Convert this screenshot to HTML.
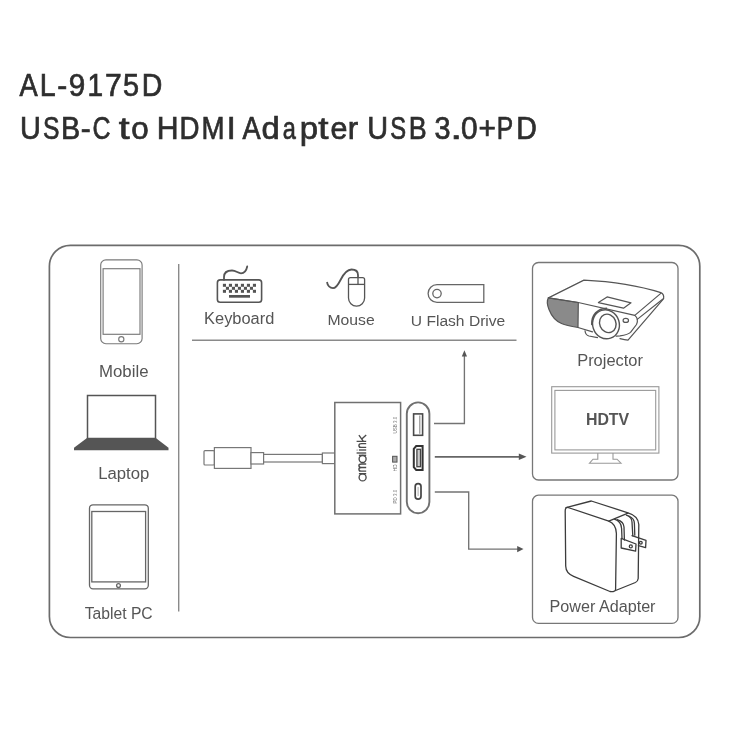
<!DOCTYPE html>
<html><head><meta charset="utf-8">
<style>
html,body{margin:0;padding:0;background:#fff;}
body{width:750px;height:750px;overflow:hidden;position:relative;}
svg{position:absolute;left:0;top:0;will-change:transform;}
text{font-family:"Liberation Sans",sans-serif;}
</style></head>
<body>
<svg width="750" height="750" viewBox="0 0 750 750">
<rect width="750" height="750" fill="#fff"/>
<!-- Title -->
<g font-size="31" fill="#2e2e2e" stroke="#2e2e2e" stroke-width="0.7">
<text transform="translate(19.40 96) scale(0.881 1)">A</text>
<text transform="translate(39.71 96) scale(0.922 1)">L</text>
<text transform="translate(57.22 96) scale(0.965 1)">-</text>
<text transform="translate(68.86 96) scale(0.957 1)">9</text>
<text transform="translate(87.51 96) scale(0.905 1)">1</text>
<text transform="translate(105.10 96) scale(0.972 1)">7</text>
<text transform="translate(123.09 96) scale(0.932 1)">5</text>
<text transform="translate(141.71 96) scale(0.920 1)">D</text>
<text transform="translate(20.02 138.5) scale(0.932 1)">U</text>
<text transform="translate(43.03 138.5) scale(0.796 1)">S</text>
<text transform="translate(60.99 138.5) scale(0.927 1)">B</text>
<text transform="translate(80.72 138.5) scale(0.965 1)">-</text>
<text transform="translate(92.48 138.5) scale(0.805 1)">C</text>
<text transform="translate(118.76 138.5) scale(1.263 1)">t</text>
<text transform="translate(131.33 138.5) scale(1.011 1)">o</text>
<text transform="translate(156.87 138.5) scale(0.976 1)">H</text>
<text transform="translate(179.48 138.5) scale(0.893 1)">D</text>
<text transform="translate(201.38 138.5) scale(0.892 1)">M</text>
<text transform="translate(226.78 138.5) scale(1.038 1)">I</text>
<text transform="translate(242.50 138.5) scale(0.876 1)">A</text>
<text transform="translate(261.48 138.5) scale(1.054 1)">d</text>
<text transform="translate(282.65 138.5) scale(0.760 1)">a</text>
<text transform="translate(299.63 138.5) scale(1.062 1)">p</text>
<text transform="translate(318.29 138.5) scale(1.187 1)">t</text>
<text transform="translate(330.56 138.5) scale(0.983 1)">e</text>
<text transform="translate(347.68 138.5) scale(1.006 1)">r</text>
<text transform="translate(367.22 138.5) scale(0.932 1)">U</text>
<text transform="translate(390.27 138.5) scale(0.768 1)">S</text>
<text transform="translate(408.85 138.5) scale(0.867 1)">B</text>
<text transform="translate(434.55 138.5) scale(0.932 1)">3</text>
<text transform="translate(450.32 138.5) scale(1.389 1)">.</text>
<text transform="translate(461.08 138.5) scale(0.965 1)">0</text>
<text transform="translate(478.49 138.5) scale(0.963 1)">+</text>
<text transform="translate(496.83 138.5) scale(0.794 1)">P</text>
<text transform="translate(516.21 138.5) scale(0.920 1)">D</text>
</g>


<!-- outer box -->
<rect x="49.4" y="245.3" width="650.4" height="392.2" rx="21" fill="none" stroke="#6c6c6c" stroke-width="1.7"/>
<!-- divider -->
<line x1="178.7" y1="264" x2="178.7" y2="611.5" stroke="#8a8a8a" stroke-width="1.4"/>
<line x1="192" y1="340.2" x2="516.5" y2="340.2" stroke="#8a8a8a" stroke-width="1.4"/>

<!-- right boxes -->
<rect x="532.5" y="262.5" width="145.5" height="217.5" rx="6" fill="none" stroke="#777" stroke-width="1.3"/>
<rect x="532.5" y="495.2" width="145.5" height="128.2" rx="6" fill="none" stroke="#777" stroke-width="1.3"/>

<!-- Mobile -->
<g fill="none" stroke="#7a7a7a" stroke-width="1.15">
<rect x="100.7" y="259.9" width="41.4" height="83.8" rx="5.2"/>
<rect x="103.1" y="268.7" width="36.9" height="65.6"/>
<circle cx="121.3" cy="339.2" r="2.6"/>
</g>
<text x="99.0" y="376.5" font-size="16" fill="#555" textLength="49.5" lengthAdjust="spacingAndGlyphs">Mobile</text>

<!-- Laptop -->
<rect x="87.5" y="395.5" width="68" height="43" fill="none" stroke="#555" stroke-width="1.5"/>
<path d="M87 438 L155.8 438 L168.5 447.8 L168.5 450.3 L74 450.3 L74 447.8 Z" fill="#555"/>
<text x="98.2" y="479.3" font-size="16" fill="#555" textLength="51.1" lengthAdjust="spacingAndGlyphs">Laptop</text>

<!-- Tablet -->
<g fill="none" stroke="#666" stroke-width="1.3">
<rect x="89.5" y="504.8" width="58.8" height="84" rx="3.5"/>
<rect x="91.8" y="511.5" width="53.8" height="70.4"/>
<circle cx="118.5" cy="585.6" r="1.9"/>
</g>
<text x="84.7" y="618.8" font-size="16" fill="#555" textLength="68.0" lengthAdjust="spacingAndGlyphs">Tablet PC</text>

<!-- Keyboard -->
<g fill="none" stroke="#555" stroke-width="1.6">
<rect x="217.4" y="279.9" width="44.2" height="22.3" rx="2.8"/>
<path d="M224 279.8 L224 277 C224 272 227 270.5 232 270.5 C236 270.5 238 273.3 241 273.3 C244.5 273.3 246.5 270 247.2 266.5" stroke-width="1.8" stroke-linecap="round"/>
</g>
<g fill="#555">
<rect x="222.9" y="283.8" width="3.1" height="3"/><rect x="228.9" y="283.8" width="3.1" height="3"/><rect x="234.9" y="283.8" width="3.1" height="3"/><rect x="240.9" y="283.8" width="3.1" height="3"/><rect x="246.9" y="283.8" width="3.1" height="3"/><rect x="252.9" y="283.8" width="3.1" height="3"/><rect x="225.9" y="286.8" width="3.1" height="3"/><rect x="231.9" y="286.8" width="3.1" height="3"/><rect x="237.9" y="286.8" width="3.1" height="3"/><rect x="243.9" y="286.8" width="3.1" height="3"/><rect x="249.9" y="286.8" width="3.1" height="3"/><rect x="222.9" y="289.8" width="3.1" height="3"/><rect x="228.9" y="289.8" width="3.1" height="3"/><rect x="234.9" y="289.8" width="3.1" height="3"/><rect x="240.9" y="289.8" width="3.1" height="3"/><rect x="246.9" y="289.8" width="3.1" height="3"/><rect x="252.9" y="289.8" width="3.1" height="3"/>
<rect x="229" y="295" width="21" height="2.7"/>
</g>
<text x="204.1" y="324" font-size="16" fill="#555" textLength="70.2" lengthAdjust="spacingAndGlyphs">Keyboard</text>

<!-- Mouse -->
<g fill="none" stroke="#555" stroke-width="1.3">
<path d="M348.5 306.2 M348.5 298 L348.5 279.6 Q348.5 277.6 350.5 277.6 L362.6 277.6 Q364.6 277.6 364.6 279.6 L364.6 298 A8.05 8.05 0 0 1 348.5 298 Z"/>
<line x1="348.5" y1="284.4" x2="364.6" y2="284.4"/>
<line x1="358" y1="277.6" x2="358" y2="284.4"/>
<path d="M358 277.6 L358 275 C358 271 355.5 269.5 351.5 269.5 C346.5 269.5 343.5 274 340.5 280 C337.5 286 335.5 288.2 333 288.2 C330 288.2 327.5 285.5 327 282" stroke-width="1.8"/>
</g>
<text x="327.4" y="325.4" font-size="15.4" fill="#555" textLength="47.3" lengthAdjust="spacingAndGlyphs">Mouse</text>

<!-- U flash -->
<g fill="none" stroke="#666" stroke-width="1.3">
<path d="M437 284.6 L483.8 284.6 L483.8 302.4 L437 302.4 A8.9 8.9 0 0 1 437 284.6 Z"/>
<circle cx="437" cy="293.6" r="4.2"/>
</g>
<text x="410.8" y="325.8" font-size="15.4" fill="#555" textLength="94.5" lengthAdjust="spacingAndGlyphs">U Flash Drive</text>

<!-- cable -->
<g fill="#fff" stroke="#777" stroke-width="1.2">
<rect x="204" y="450.6" width="10.4" height="14.4" rx="1"/>
<rect x="214.4" y="447.6" width="36.6" height="20.8"/>
<rect x="251" y="452.6" width="12.6" height="11.4"/>
<rect x="263.6" y="454.4" width="58.8" height="7.6"/>
<rect x="322.4" y="453" width="12.6" height="10.6"/>
</g>
<!-- adapter body -->
<rect x="334.8" y="402.5" width="65.8" height="111.4" fill="#fff" stroke="#707070" stroke-width="1.5"/>
<g transform="translate(366.2 482) rotate(-90)" fill="none" stroke="#4a4a4a" stroke-width="1.35" stroke-linecap="butt">
<circle cx="4.6" cy="-3.6" r="3.5"/><path d="M8.3 -7.3 V0"/>
<path d="M10.9 0 V-7.3 M10.9 -4.6 C10.9 -6.6 11.8 -7.3 12.8 -7.3 C13.9 -7.3 14.5 -6.6 14.5 -4.6 V0 M14.5 -4.6 C14.5 -6.6 15.3 -7.3 16.4 -7.3 C17.4 -7.3 18 -6.6 18 -4.6 V0"/>
<circle cx="23" cy="-3.6" r="3.5"/><path d="M26.7 -7.3 V0"/>
<path d="M29 -9.6 V0"/>
<path d="M32 -7.3 V0"/><circle cx="32" cy="-9.1" r="0.55" fill="#4a4a4a" stroke="none"/>
<path d="M34.6 0 V-7.3 M34.6 -4.6 C34.6 -6.6 35.5 -7.3 36.6 -7.3 C37.6 -7.3 38.4 -6.6 38.4 -4.6 V0"/>
<path d="M40.6 -9.6 V0 M46.8 -7.3 L40.8 -3 M43 -4.4 L47 0"/>
</g>
<text transform="translate(397 433.5) rotate(-90)" font-size="4.5" fill="#777">USB 3.0</text>
<text transform="translate(397 471.5) rotate(-90)" font-size="5" fill="#666">HD</text>
<rect x="392.6" y="456.3" width="4.4" height="5.8" fill="#aaa" stroke="#555" stroke-width="1"/>
<text transform="translate(397 503.5) rotate(-90)" font-size="4.5" fill="#777">PD 3.0</text>
<!-- port capsule -->
<rect x="406.8" y="402.4" width="22.6" height="110.8" rx="11.3" fill="#fff" stroke="#707070" stroke-width="1.9"/>
<g fill="none" stroke="#555" stroke-width="1.4">
<rect x="413.6" y="413.9" width="9" height="21.4" stroke="#4a4a4a" stroke-width="1.6"/>
<line x1="419.8" y1="415.5" x2="419.8" y2="433.7" stroke="#888" stroke-width="1.1"/>
<path d="M416.2 446 L422.6 446 L422.6 470 L416.2 470 L413.8 467.2 L413.8 448.8 Z" stroke="#333" stroke-width="2"/>
<rect x="416.9" y="449.3" width="3.6" height="17.4" fill="#ccc" stroke="#444" stroke-width="1.3"/>
<rect x="415.2" y="483.6" width="5.8" height="15.6" rx="2.9" stroke="#444" stroke-width="1.7"/>
<line x1="418.1" y1="487" x2="418.1" y2="496" stroke="#999" stroke-width="0.8"/>
</g>

<!-- arrows -->
<g fill="none" stroke="#737373" stroke-width="1.35">
<path d="M434 423.5 L464.4 423.5 L464.4 355"/>
<path d="M434.8 456.8 L520 456.8" stroke="#666" stroke-width="1.8"/>
<path d="M434.8 492 L468.7 492 L468.7 549.1 L518 549.1"/>
</g>
<g fill="#555">
<path d="M461.8 356.5 L464.4 350.3 L467 356.5 Z"/>
<path d="M518.8 453.6 L526.5 456.8 L518.8 460 Z"/>
<path d="M517.2 546 L523.5 549.1 L517.2 552.2 Z"/>
</g>

<!-- Projector -->
<g fill="none" stroke="#555" stroke-width="1.2" stroke-linejoin="round" stroke-linecap="round">
<path d="M548.4 297.9 C546.8 300.5 547 304.5 549 309.5 C551.5 316 555.5 321 561.5 323.5 C566 325.5 572 326.5 578 327.5 L578.3 302.5 Z" fill="#8a8a8a"/>
<path d="M548.4 297.9 L583.9 280.1 C612 281.5 640 286 660.8 292.6 C663.3 293.6 664 296 663.6 298.6 L662.4 300.2 L628 340.2 C625.5 340 622.5 339.3 620 338.6"/>
<path d="M548.4 297.9 L578.3 302.5 L634.8 315.4 L660.8 293.4"/>
<path d="M662.6 299.2 L637.2 319.4"/>
<path d="M634.8 315.4 C637.5 317.5 638 321 636.5 324.5 L630.5 332.3 C629 333.8 626.5 334.8 620 335.8 L616.2 336.2"/>
<path d="M578 327.5 L592.5 331.8"/>
<path d="M585 330.8 C585.3 333.5 586.8 335.5 589 336 L597.5 337.6"/>
<path d="M598.4 302.6 L607.1 296.9 L631 302.8 L623.5 308.2 Z"/>
<ellipse cx="606" cy="324.3" rx="13.3" ry="14.6" transform="rotate(-18 606 324.3)" fill="#fff" stroke-width="1.4"/>
<path d="M591.8 324.5 C591.5 315 597.5 308.5 606.5 308.2" stroke-width="1.6"/>
<ellipse cx="607.8" cy="323.4" rx="8.1" ry="9.4" transform="rotate(-22 607.8 323.4)" stroke-width="1.4"/>
<ellipse cx="625.8" cy="320.4" rx="2.7" ry="2"/>
</g>
<text x="577.2" y="365.8" font-size="16" fill="#555" textLength="65.7" lengthAdjust="spacingAndGlyphs">Projector</text>

<!-- HDTV -->
<g fill="none" stroke="#999" stroke-width="1.1">
<rect x="551.7" y="386.7" width="107.2" height="66.4"/>
<rect x="554.9" y="390.4" width="100.8" height="59.5"/>
<path d="M597.8 453.1 L597.8 459.2 L593 459.2 L589.5 463.2 L621 463.2 L617 459.2 L613 459.2 L613 453.1"/>
</g>
<text x="585.9" y="424.5" font-size="16.4" font-weight="bold" fill="#555" textLength="43.3" lengthAdjust="spacingAndGlyphs">HDTV</text>

<!-- Power adapter -->
<g fill="none" stroke="#3c3c3c" stroke-width="1.3" stroke-linejoin="round" stroke-linecap="round">
<path d="M568 507.5 L608.8 521.2 C613.5 523 616.2 527.5 616.4 533.6 L615.6 589.5 C615.5 591.5 613 592 610 591.5 L573.6 576.3 C569 574.5 565.8 570.5 565.7 566 L565.2 511 C565.2 508.5 566.2 507.2 568 507.5 Z"/>
<path d="M566 507.6 L591.3 501 L628 512.8 C634.5 514.8 638.5 518.5 638.8 524.5 L638.2 578.5 C638 580.5 637 581.8 635.4 582.5 L615.6 590.5"/>
<path d="M608.8 521.2 L628 513.2"/>
<path d="M614.4 519.2 C618.5 520.5 621.4 524 621.6 528.5 L622 538.4"/>
<path d="M617.2 519.6 C621.5 521 623.8 523.5 624 527 L624.4 540"/>
<path d="M621.2 538.4 L636 544 L635.6 551.2 L621.2 548 Z"/>
<path d="M626.4 515.2 C630 516.5 632 518.5 632 522 L632.8 535.8"/>
<path d="M628.8 516 C632.5 517.5 634.4 520 634.4 523.5 L634.8 535.2"/>
<path d="M632 535.6 L646 540.4 L645.6 547.6 L638.4 545.6"/>
<circle cx="630.8" cy="546.4" r="1.5"/>
<circle cx="640.8" cy="542.8" r="1.4"/>
</g>
<text x="549.5" y="612.2" font-size="16" fill="#555" textLength="106.0" lengthAdjust="spacingAndGlyphs">Power Adapter</text>
</svg>
</body></html>
